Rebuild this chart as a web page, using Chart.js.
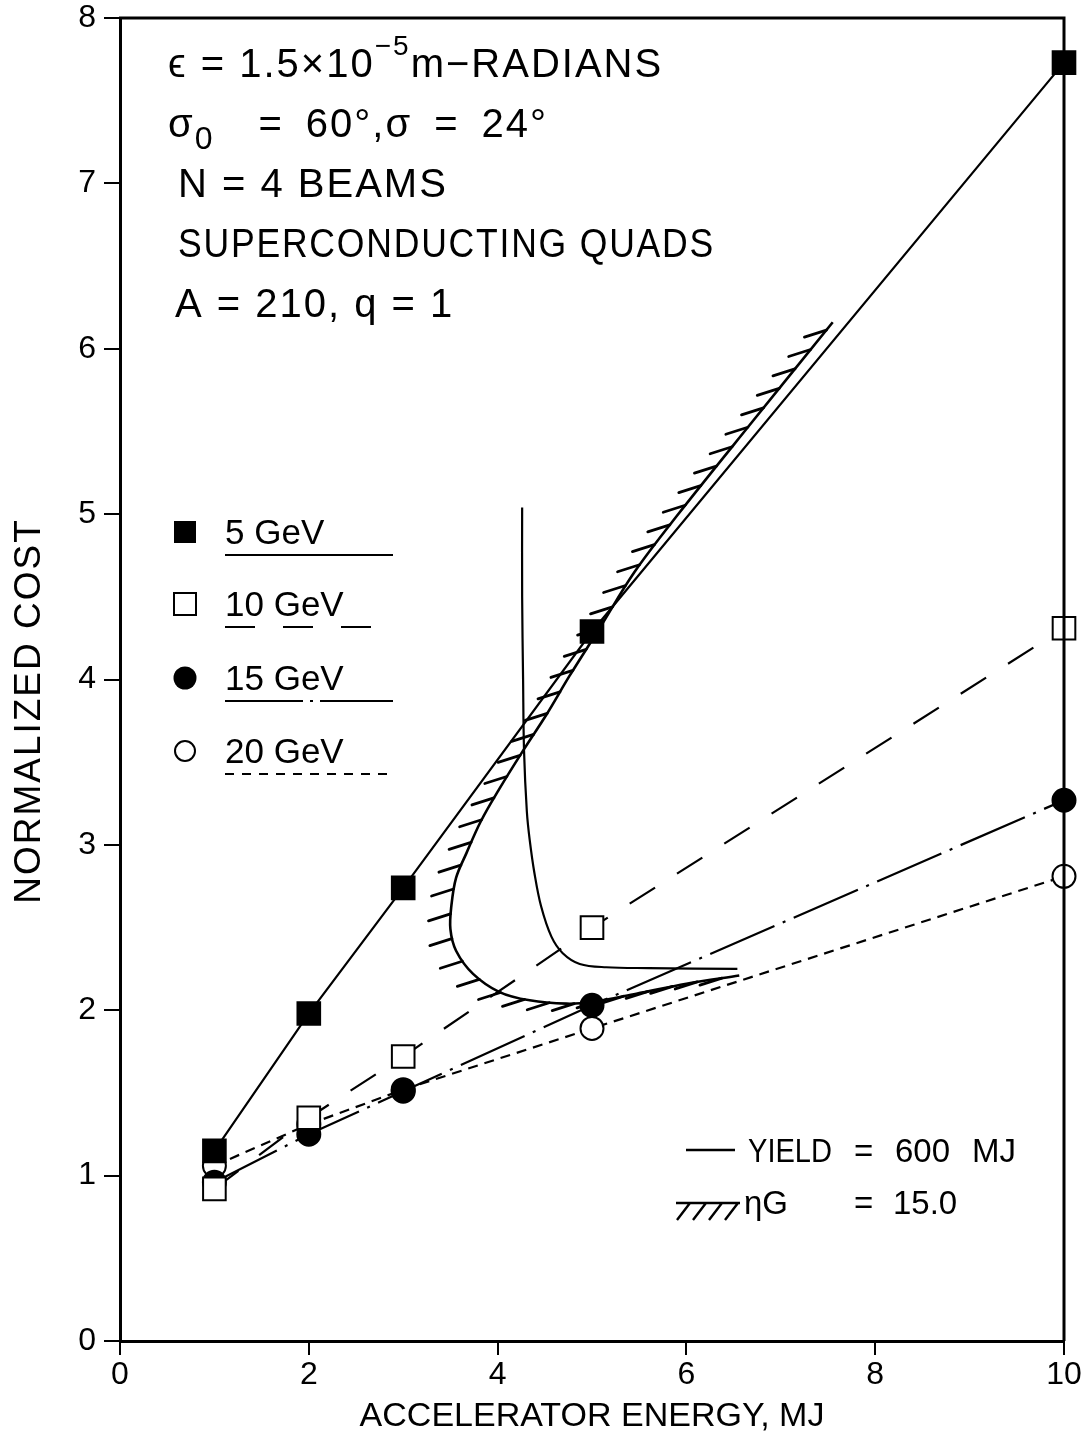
<!DOCTYPE html>
<html>
<head>
<meta charset="utf-8">
<script src="https://cdn.jsdelivr.net/npm/chart.js@4.4.1/dist/chart.umd.min.js"></script>
<style>
  html, body { margin: 0; padding: 0; background: #fff; }
  #wrap { width: 1082px; height: 1439px; }
</style>
</head>
<body>
<div id="wrap"><canvas id="chart" width="1082" height="1439"></canvas></div>
<script>
// accelerator energy (MJ) of the computed points
const energies = [1, 2, 3, 5, 10];
// normalized cost, one list per ion kinetic energy
const cost5GeV = [1.15, 1.98, 2.74, 4.29, 7.73];
const cost10GeV = [0.92, 1.35, 1.72, 2.50, 4.31];
const cost15GeV = [0.96, 1.25, 1.51, 2.03, 3.27];
const cost20GeV = [1.06, 1.31, 1.52, 1.89, 2.81];

// YIELD = 600 MJ contour
const yieldX = [4.26, 4.26, 4.27, 4.28, 4.31, 4.34, 4.39, 4.46, 4.57, 4.69, 4.87, 5.15, 5.6, 6.54];
const yieldY = [5.04, 4.5, 4.0, 3.57, 3.2, 3.03, 2.83, 2.63, 2.445, 2.345, 2.28, 2.26, 2.255, 2.25];

// eta*G = 15.0 contour (hatched)
const etaGX = [7.55, 6.7, 5.9, 5.45, 5.08, 4.76, 4.52, 4.27, 4.02, 3.82, 3.67, 3.56, 3.51, 3.50, 3.56, 3.74, 4.02, 4.34, 4.73, 5.0, 5.47, 6.0, 6.56];
const etaGY = [6.16, 5.56, 4.99, 4.65, 4.31, 4.02, 3.79, 3.57, 3.34, 3.14, 2.95, 2.80, 2.63, 2.49, 2.36, 2.22, 2.11, 2.06, 2.04, 2.05, 2.10, 2.16, 2.21];

const xTicks = [0, 2, 4, 6, 8, 10];
const yTicks = [0, 1, 2, 3, 4, 5, 6, 7, 8];

const FONT = '"Liberation Sans", Arial, sans-serif';
Chart.defaults.font.family = FONT;
Chart.defaults.color = '#000';

const pts = (xs, ys) => xs.map((x, i) => ({ x, y: ys[i] }));

// line dash per series
const dash10 = [30, 26];
const dash15 = [70, 9, 3, 9];
const dash20 = [10, 7];

function series(label, ys, style, filled, dash) {
  const isRect = style === 'rect';
  return {
    label,
    data: pts(energies, ys),
    showLine: true,
    clip: false,
    borderColor: '#000',
    borderWidth: 2.2,
    borderDash: dash,
    pointStyle: style,
    pointRadius: isRect ? 16 : 11.5,
    pointBorderWidth: 2,
    pointBackgroundColor: filled ? '#000' : '#fff',
    pointBorderColor: '#000',
    tension: 0
  };
}

// sample the drawn bezier curve of a dataset into a polyline
function curvePoints(meta) {
  const p = meta.data;
  const out = [{ x: p[0].x, y: p[0].y }];
  for (let i = 1; i < p.length; i++) {
    const a = p[i - 1], b = p[i];
    const c1x = a.cp2x ?? a.x, c1y = a.cp2y ?? a.y;
    const c2x = b.cp1x ?? b.x, c2y = b.cp1y ?? b.y;
    for (let k = 1; k <= 20; k++) {
      const t = k / 20, u = 1 - t;
      out.push({
        x: u*u*u*a.x + 3*u*u*t*c1x + 3*u*t*t*c2x + t*t*t*b.x,
        y: u*u*u*a.y + 3*u*u*t*c1y + 3*u*t*t*c2y + t*t*t*b.y
      });
    }
  }
  return out;
}

const hatchPlugin = {
  id: 'hatch',
  afterDatasetsDraw(chart) {
    const idx = chart.data.datasets.findIndex(d => d.hatched);
    const line = curvePoints(chart.getDatasetMeta(idx));
    const ctx = chart.ctx;
    const spacing = 25;
    ctx.save();
    ctx.strokeStyle = '#000';
    ctx.lineWidth = 2.8;
    ctx.lineCap = 'round';
    ctx.beginPath();
    let carry = 10;
    for (let i = 1; i < line.length; i++) {
      const a = line[i - 1], b = line[i];
      const len = Math.hypot(b.x - a.x, b.y - a.y);
      let d = carry;
      while (d <= len) {
        const t = d / len;
        const x = a.x + (b.x - a.x) * t, y = a.y + (b.y - a.y) * t;
        ctx.moveTo(x, y);
        ctx.lineTo(x - 22, y + 7);
        d += spacing;
      }
      carry = d - len;
    }
    ctx.stroke();
    ctx.restore();
  }
};

function runs(ctx, x, y, parts) {
  parts.forEach(([text, size, dy]) => {
    ctx.font = size + 'px ' + FONT;
    ctx.fillText(text, x, y + dy);
    x += ctx.measureText(text).width;
  });
}

const decorPlugin = {
  id: 'decor',
  afterDraw(chart) {
    const ctx = chart.ctx;
    const a = chart.chartArea;
    ctx.save();
    ctx.strokeStyle = '#000';
    ctx.fillStyle = '#000';

    // top and right frame
    ctx.lineWidth = 3;
    ctx.beginPath();
    ctx.moveTo(a.left - 1, a.top);
    ctx.lineTo(a.right, a.top);
    ctx.lineTo(a.right, a.bottom);
    ctx.stroke();

    // y axis title, drawn by hand to sit where the original has it
    ctx.save();
    ctx.translate(30, 711);
    ctx.rotate(-Math.PI / 2);
    ctx.font = '37px ' + FONT;
    ctx.letterSpacing = '2px';
    ctx.textAlign = 'center';
    ctx.textBaseline = 'middle';
    ctx.fillText('NORMALIZED COST', 0, 0);
    ctx.restore();

    // parameter block
    ctx.textBaseline = 'alphabetic';
    ctx.letterSpacing = '2px';
    const L = a.left + 48;
    const sp = '\u2002';
    runs(ctx, L, 77, [['\u03F5 = 1.5\u00D710', 40, 0], ['\u22125', 28, -22], ['m\u2212RADIANS', 40, 0]]);
    runs(ctx, L, 137, [['\u03C3', 40, 0], ['0', 32, 12], [sp + sp + '=' + sp + '60\u00B0,\u03C3' + sp + '=' + sp + '24\u00B0', 40, 0]]);
    runs(ctx, L + 10, 197, [['N = 4 BEAMS', 40, 0]]);
    ctx.font = '40px ' + FONT;
    ctx.fillText('SUPERCONDUCTING QUADS', L + 10, 257, 537);
    runs(ctx, L + 7, 317, [['A = 210, q = 1', 40, 0]]);
    ctx.letterSpacing = '0px';

    // series key
    const kx = a.left + 65, tx = a.left + 105, lx1 = a.left + 105, lx2 = a.left + 273;
    const rows = [
      { y: 532, text: '5 GeV', shape: 'rect', fill: true, dash: [] },
      { y: 604, text: '10 GeV', shape: 'rect', fill: false, dash: [30, 28] },
      { y: 678, text: '15 GeV', shape: 'circle', fill: true, dash: [78, 7, 3, 7] },
      { y: 751, text: '20 GeV', shape: 'circle', fill: false, dash: [9, 8] }
    ];
    rows.forEach(r => {
      ctx.lineWidth = 2;
      ctx.setLineDash([]);
      ctx.beginPath();
      if (r.shape === 'rect') ctx.rect(kx - 11, r.y - 11, 22, 22);
      else ctx.arc(kx, r.y, r.fill ? 11.5 : 10, 0, Math.PI * 2);
      if (r.fill) ctx.fill(); else ctx.stroke();
      ctx.font = '35px ' + FONT;
      ctx.fillText(r.text, tx, r.y + 12);
      ctx.lineWidth = 2.2;
      ctx.setLineDash(r.dash);
      ctx.beginPath();
      ctx.moveTo(lx1, r.y + 23);
      ctx.lineTo(lx2, r.y + 23);
      ctx.stroke();
    });
    ctx.setLineDash([]);

    // contour key
    ctx.lineWidth = 2.4;
    ctx.beginPath();
    ctx.moveTo(686, 1150);
    ctx.lineTo(735, 1150);
    ctx.moveTo(676, 1203);
    ctx.lineTo(740, 1203);
    [690, 706, 722, 738].forEach(x => {
      ctx.moveTo(x, 1203);
      ctx.lineTo(x - 13, 1220);
    });
    ctx.stroke();
    ctx.font = '33px ' + FONT;
    ctx.fillText('YIELD', 748, 1162, 84);
    ctx.fillText('=', 854, 1162);
    ctx.fillText('600', 895, 1162);
    ctx.fillText('MJ', 972, 1162);
    ctx.fillText('\u03B7G', 744, 1214);
    ctx.fillText('=', 854, 1214);
    ctx.fillText('15.0', 893, 1214);
    ctx.restore();
  }
};

new Chart(document.getElementById('chart'), {
  type: 'scatter',
  data: {
    datasets: [
      series('5 GeV', cost5GeV, 'rect', true, []),
      series('10 GeV', cost10GeV, 'rect', false, dash10),
      series('15 GeV', cost15GeV, 'circle', true, dash15),
      series('20 GeV', cost20GeV, 'circle', false, dash20),
      {
        label: 'YIELD = 600 MJ',
        data: pts(yieldX, yieldY),
        showLine: true,
        borderColor: '#000',
        borderWidth: 2.2,
        pointRadius: 0,
        tension: 0.35
      },
      {
        label: 'etaG = 15.0',
        hatched: true,
        data: pts(etaGX, etaGY),
        showLine: true,
        borderColor: '#000',
        borderWidth: 2.6,
        pointRadius: 0,
        tension: 0.35
      }
    ]
  },
  options: {
    responsive: false,
    animation: false,
    events: [],
    layout: { padding: { top: 17, right: 17, left: 0, bottom: 0 } },
    plugins: { legend: { display: false }, tooltip: { enabled: false } },
    scales: {
      x: {
        type: 'linear',
        min: 0,
        max: 10,
        afterBuildTicks: s => { s.ticks = xTicks.map(v => ({ value: v })); },
        afterFit: s => { s.height = 98; s.paddingLeft = 0; s.paddingRight = 0; },
        grid: { drawOnChartArea: false, drawTicks: true, tickLength: 14, color: '#000', lineWidth: 2 },
        border: { color: '#000', width: 3 },
        ticks: { font: { size: 32 }, color: '#000', padding: 1, maxRotation: 0 },
        title: { display: true, text: 'ACCELERATOR ENERGY, MJ', font: { size: 34 }, color: '#000', padding: { top: 0, bottom: 2 } }
      },
      y: {
        type: 'linear',
        min: 0,
        max: 8,
        afterBuildTicks: s => { s.ticks = yTicks.map(v => ({ value: v })); },
        afterFit: s => { s.width = 120; s.paddingTop = 0; s.paddingBottom = 0; },
        grid: { drawOnChartArea: false, drawTicks: true, tickLength: 16, color: '#000', lineWidth: 2 },
        border: { color: '#000', width: 3 },
        ticks: { font: { size: 32 }, color: '#000', padding: 8 },
        title: { display: false }
      }
    }
  },
  plugins: [hatchPlugin, decorPlugin]
});
</script>
</body>
</html>
